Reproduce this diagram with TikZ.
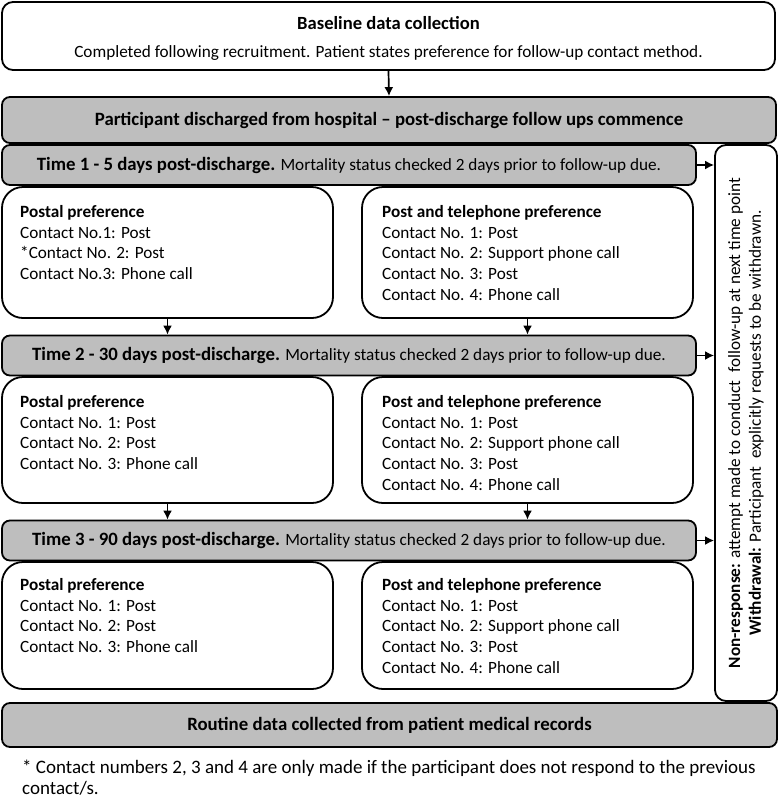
\documentclass[tikz,border=0pt]{standalone}
\usepackage{fontspec}
\setmainfont{Carlito}
\usetikzlibrary{positioning, arrows.meta}
\definecolor{stagegray}{RGB}{190,190,190}
\newcommand{\stagebf}[1]{{\fontsize{18.8}{22}\selectfont\bfseries #1}}

\begin{document}
\begin{tikzpicture}[x=1pt, y=-1pt,
        every node/.style={inner sep=0pt, font=\fontsize{17.2}{20.8}\selectfont},
        whitebox/.style={draw, line width=1.8pt, fill=white, rounded corners=11pt},
        graybox/.style={draw, line width=1.8pt, fill=stagegray, rounded corners=8pt},
        prefbox/.style={draw, line width=1.8pt, fill=white, rounded corners=21pt,
            minimum width=331},
        prefs/.style={anchor=north west, align=left},
        flow/.style={-{Latex[length=9pt, width=9pt]}, line width=1.7pt}]
    \useasboundingbox (0,0) rectangle (778,801);

    \node[whitebox, minimum width=773, minimum height=68] (base) at (388.5,36) {};
    \node[align=center] (basetxt) at (388.5,38.5)
        {{\fontsize{18.6}{20}\selectfont\bfseries Baseline data collection}\\[8pt]
         Completed following recruitment. Patient states preference for follow-up contact method.};
    \node[graybox, minimum width=774, minimum height=46] (dis) at (389,120)
        {\stagebf{Participant discharged from hospital -- post-discharge follow ups commence}};
    \draw[flow] (base.south) -- (dis.north);

    \node[whitebox, minimum width=62, minimum height=556] (side) at (746,423) {};
    \node[rotate=90, align=center] (sidetxt) at (side.center)
        {\textbf{Non-response:} attempt made to conduct\ \ follow-up at next time point\\
         \textbf{Withdrawal:} Participant\ \ explicitly requests to be withdrawn.};

    \node[graybox, minimum width=694, minimum height=40] (T1) at (349,165)
        {\stagebf{Time 1 - 5 days post-discharge.} Mortality status checked 2 days prior to follow-up due.};
    \node[graybox, minimum width=694, minimum height=40] (T2) at (349,355.5)
        {\stagebf{Time 2 - 30 days post-discharge.} Mortality status checked 2 days prior to follow-up due.};
    \node[graybox, minimum width=694, minimum height=40] (T3) at (349,540.5)
        {\stagebf{Time 3 - 90 days post-discharge.} Mortality status checked 2 days prior to follow-up due.};

    \node[prefbox, minimum height=131] (P1) at (167.5,252.5) {};
    \node[prefbox, minimum height=131] (Q1) at (527.5,252.5) {};
    \node[prefbox, minimum height=126] (P2) at (167.5,440) {};
    \node[prefbox, minimum height=126] (Q2) at (527.5,440) {};
    \node[prefbox, minimum height=127] (P3) at (167.5,625.5) {};
    \node[prefbox, minimum height=127] (Q3) at (527.5,625.5) {};

    \node[prefs] (p1txt) at (20,205) {\textbf{Postal preference}\\ Contact No.1: Post\\
        *Contact No. 2: Post\\ Contact No.3: Phone call};
    \node[prefs] (q1txt) at (382,205) {\textbf{Post and telephone preference}\\ Contact No. 1: Post\\
        Contact No. 2: Support phone call\\ Contact No. 3: Post\\ Contact No. 4: Phone call};
    \node[prefs] (p2txt) at (20,395) {\textbf{Postal preference}\\ Contact No. 1: Post\\
        Contact No. 2: Post\\ Contact No. 3: Phone call};
    \node[prefs] (q2txt) at (382,395) {\textbf{Post and telephone preference}\\ Contact No. 1: Post\\
        Contact No. 2: Support phone call\\ Contact No. 3: Post\\ Contact No. 4: Phone call};
    \node[prefs] (p3txt) at (20,578) {\textbf{Postal preference}\\ Contact No. 1: Post\\
        Contact No. 2: Post\\ Contact No. 3: Phone call};
    \node[prefs] (q3txt) at (382,578) {\textbf{Post and telephone preference}\\ Contact No. 1: Post\\
        Contact No. 2: Support phone call\\ Contact No. 3: Post\\ Contact No. 4: Phone call};

    \draw[flow] (P1.south) -- (P1.south |- T2.north);
    \draw[flow] (Q1.south) -- (Q1.south |- T2.north);
    \draw[flow] (P2.south) -- (P2.south |- T3.north);
    \draw[flow] (Q2.south) -- (Q2.south |- T3.north);

    \draw[flow] (T1.east) -- (T1.east -| side.west);
    \draw[flow] (T2.east) -- (T2.east -| side.west);
    \draw[flow] (T3.east) -- (T3.east -| side.west);

    \node[graybox, minimum width=775, minimum height=44] (rec) at (389.5,725)
        {\stagebf{Routine data collected from patient medical records}};

    \node[anchor=north west, align=left, font=\fontsize{19}{21}\selectfont] (note) at (22,760)
        {* Contact numbers 2, 3 and 4 are only made if the participant does not respond to the previous\\
         contact/s.};
\end{tikzpicture}
\end{document}
